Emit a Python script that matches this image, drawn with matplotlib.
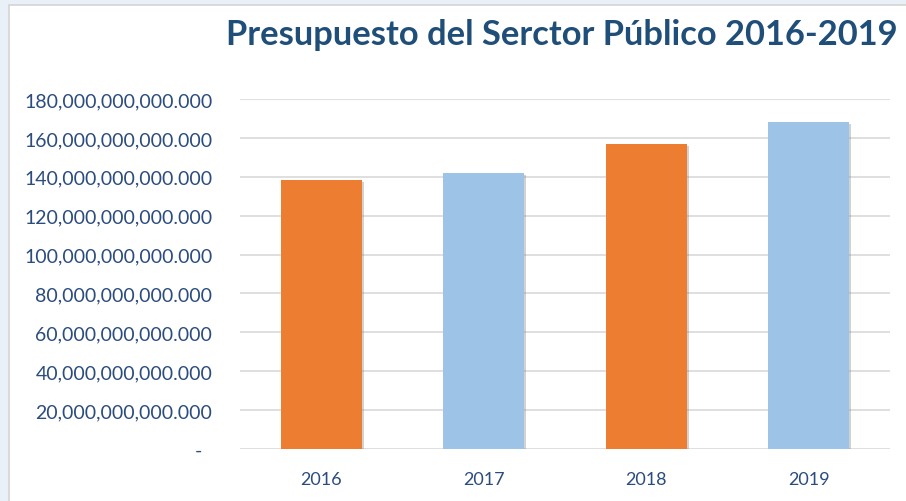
import matplotlib
matplotlib.use("Agg")
import matplotlib.pyplot as plt
from matplotlib.patches import Rectangle
from matplotlib.ticker import FuncFormatter
import matplotlib.patheffects as pe

years = ["2016", "2017", "2018", "2019"]
values = [138.2e9, 141.8e9, 156.9e9, 168.0e9]
colors = ["#ED7D31", "#9DC3E6", "#ED7D31", "#9DC3E6"]
title = "Presupuesto del Serctor Público 2016-2019"

plt.rcParams['font.family'] = ['Lato', 'DejaVu Sans']

W, H = 906, 502
fig = plt.figure(figsize=(W / 100, H / 100), dpi=100)
fig.patch.set_facecolor("#E9F0F8")
# white chart area with thin grey border
fig.add_artist(Rectangle((9 / W, -0.05), 1.1, 1 - 6 / H + 0.05,
                         transform=fig.transFigure, facecolor="white",
                         edgecolor="#D4D4D4", linewidth=1.2, zorder=0))

ax = fig.add_axes([240 / W, 1 - 450 / H, 650 / W, 350 / H])
ax.set_facecolor("none")
x = range(len(years))
bars = ax.bar(x, values, width=0.5, color=colors, zorder=3)
for b in bars:
    b.set_path_effects([pe.SimplePatchShadow(offset=(1.5, -1.5), alpha=0.35,
                                             shadow_rgbFace="#7F7F7F"),
                        pe.Normal()])

ax.set_xlim(-0.5, 3.5)
ax.set_ylim(0, 180e9)
ax.set_yticks([i * 20e9 for i in range(10)])
ax.yaxis.set_major_formatter(FuncFormatter(
    lambda v, p: "-  " if v == 0 else f"{v:,.3f}"))
ax.set_xticks(list(x))
ax.set_xticklabels(years)
ax.grid(axis="y", color="#D9D9D9", linewidth=1.2, zorder=0)
for s in ax.spines.values():
    s.set_visible(False)
ax.tick_params(axis="both", length=0, labelcolor="#2B4C7E")
ax.tick_params(axis="y", pad=20, labelsize=14)
ax.tick_params(axis="x", pad=16, labelsize=13)

fig.text(226 / W, 1 - 35 / H, title, fontsize=24.8, fontweight="bold",
         color="#1F4E79", ha="left", va="center")

fig.savefig("out.png", dpi=100, facecolor=fig.get_facecolor())
